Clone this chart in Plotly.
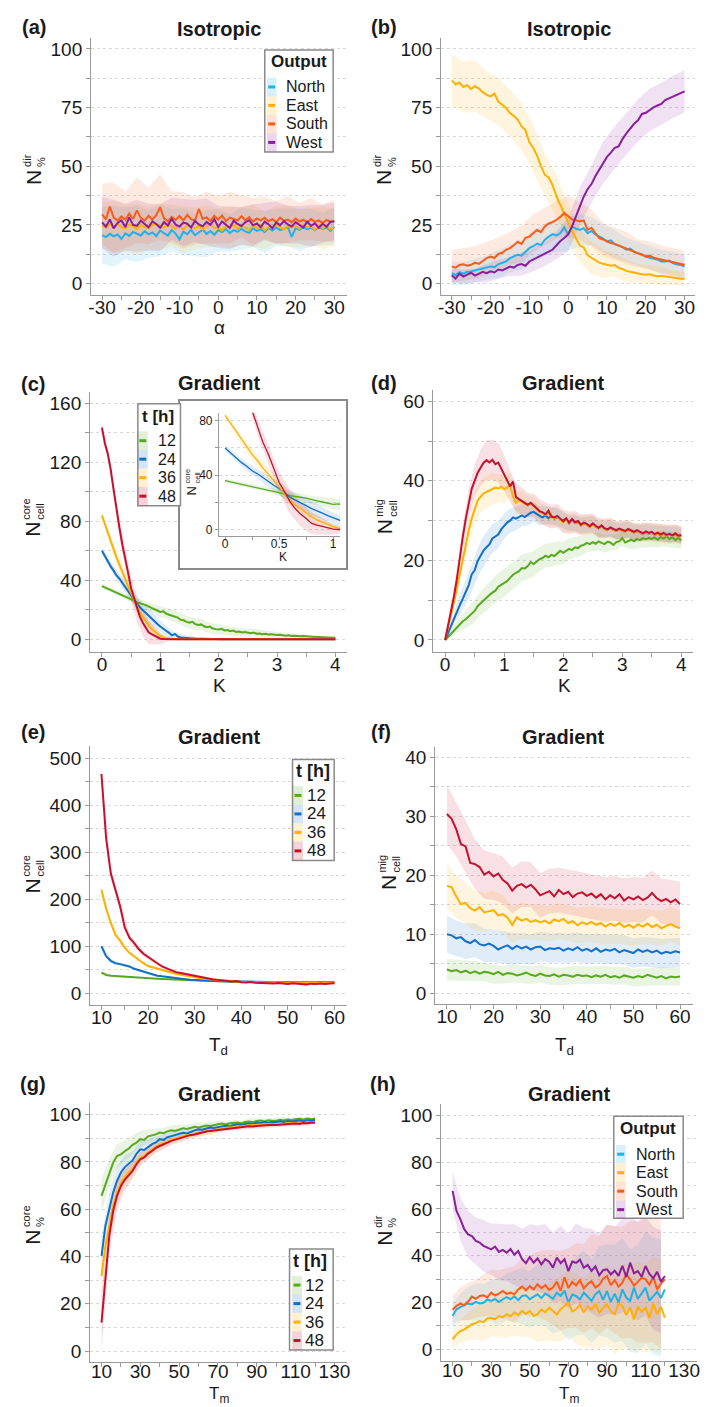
import plotly.graph_objects as go

# ---------------------------------------------------------------- data
ALPHA = list(range(-30, 31))                      # 61 angles
K = [round(0.05 * i, 2) for i in range(81)]       # 0 .. 4
TD = list(range(10, 61))                          # 10 .. 60
TM = list(range(10, 121, 2))                      # 10 .. 120

DIR_NAMES = ["North", "East", "South", "West"]
T_NAMES = ["12", "24", "36", "48"]

# (a) isotropic, no bias
A_NORTH = [20.6, 19.8, 21.2, 20.1, 20.9, 19.0, 21.4, 20.3, 22.0, 21.1,
           20.5, 22.3, 21.0, 21.8, 20.2, 22.6, 21.5, 20.4, 22.8, 21.3,
           18.9, 22.1, 21.0, 22.9, 20.6, 21.8, 23.0, 21.2, 22.4, 20.8,
           22.7, 21.9, 23.3, 21.5, 22.8, 22.0, 23.4, 22.2, 21.6, 23.5,
           22.4, 23.1, 22.0, 23.7, 22.6, 23.9, 22.8, 23.3, 24.1, 19.9,
           23.6, 22.9, 24.0, 23.2, 23.8, 22.7, 24.1, 23.3, 23.9, 22.5,
           24.2]
A_EAST = [24.8, 23.9, 25.3, 24.2, 25.6, 24.0, 23.5, 25.1, 24.4, 23.2,
          25.0, 24.1, 23.6, 24.9, 25.4, 24.3, 23.8, 25.2, 24.6, 23.4,
          24.7, 22.9, 25.0, 24.2, 23.5, 24.8, 23.1, 24.4, 25.3, 23.7,
          24.0, 22.6, 24.5, 23.9, 25.1, 23.3, 24.6, 23.8, 22.8, 24.7,
          23.5, 24.9, 22.7, 24.2, 23.6, 25.0, 24.1, 23.0, 24.5, 23.8,
          24.6, 23.4, 25.2, 23.9, 24.3, 22.9, 24.8, 23.6, 24.4, 23.1,
          24.0]
A_SOUTH = [29.5, 27.4, 32.8, 28.1, 26.9, 28.6, 27.2, 29.8, 27.5, 31.2,
           28.0, 26.8, 28.9, 27.3, 29.1, 32.6, 27.8, 26.5, 28.4, 27.1,
           28.8, 26.9, 29.3, 27.4, 26.8, 31.8, 27.6, 28.2, 26.7, 28.9,
           27.3, 29.0, 26.6, 28.1, 27.5, 26.9, 28.7, 27.0, 28.3, 26.4,
           27.8, 26.9, 28.0, 26.5, 27.4, 26.2, 28.1, 26.8, 27.3, 26.1,
           27.7, 26.4, 27.2, 26.0, 27.5, 26.3, 26.9, 25.8, 27.1, 26.4,
           26.8]
A_WEST = [26.1, 24.2, 27.3, 23.5, 25.8, 26.9, 24.1, 28.2, 25.0, 24.6,
          26.8, 25.2, 24.0, 26.5, 25.4, 23.8, 26.2, 24.7, 27.6, 25.1,
          24.3, 26.0, 25.5, 23.9, 26.7, 25.2, 24.4, 26.3, 25.0, 27.4,
          24.2, 26.5, 25.1, 23.7, 26.8, 25.4, 24.5, 26.1, 27.0, 24.8,
          25.6, 24.0, 26.4, 25.3, 23.6, 26.0, 24.9, 26.6, 25.2, 24.3,
          26.2, 25.0, 23.9, 26.4, 24.6, 25.7, 23.8, 25.5, 24.2, 26.3,
          26.5]
# spread, sampled every 3rd angle
A_NORTH_SD = [12, 13, 11, 12, 10, 11, 9, 10, 9, 10, 9, 8, 9, 8, 9, 8, 8, 9, 8, 7, 8]
A_EAST_SD = [10, 11, 10, 11, 9, 10, 9, 10, 9, 9, 8, 9, 8, 9, 8, 8, 9, 8, 8, 9, 8]
A_SOUTH_SD = [13, 15, 12, 14, 12, 14, 11, 12, 10, 11, 10, 11, 9, 10, 9, 9, 10, 8, 9, 8, 9]
A_WEST_SD = [11, 12, 10, 11, 10, 10, 9, 10, 9, 10, 9, 9, 8, 9, 8, 9, 8, 8, 9, 8, 8]

# (b) isotropic, biased
B_NORTH = [4.4, 3.6, 4.9, 4.2, 5.0, 5.1, 5.6, 5.9, 6.4, 6.8,
           7.3, 7.0, 8.2, 8.9, 9.4, 10.8, 11.6, 12.3, 11.9, 13.6,
           15.1, 15.9, 17.0, 16.4, 18.7, 20.0, 21.1, 20.4, 21.5, 23.9,
           20.8, 24.3, 23.4, 22.9, 23.6, 21.5, 22.4, 20.9, 20.0, 19.2,
           17.9, 18.4, 16.8, 16.1, 15.5, 14.4, 14.9, 13.5, 12.8, 12.2,
           11.5, 11.0, 10.6, 10.2, 9.4, 9.4, 9.8, 8.7, 8.1, 7.9,
           7.3]
B_EAST = [86.6, 84.9, 85.7, 83.8, 84.6, 82.9, 84.2, 83.1, 81.6, 80.4,
          79.8, 81.0, 77.6, 76.2, 74.9, 72.7, 71.5, 69.8, 67.0, 65.4,
          60.2, 57.9, 54.4, 50.1, 46.3, 45.2, 41.8, 37.1, 33.4, 30.1,
          25.8, 22.4, 19.3, 16.2, 15.4, 12.1, 11.0, 9.9, 8.9, 8.4,
          8.1, 7.6, 7.9, 6.7, 6.2, 5.4, 5.0, 4.6, 4.3, 4.0,
          3.8, 3.9, 3.4, 3.1, 3.3, 3.0, 2.7, 2.5, 2.3, 2.0,
          1.9]
B_SOUTH = [7.3, 6.8, 7.9, 8.2, 7.6, 8.0, 8.9, 8.4, 9.6, 10.8,
           11.5, 10.9, 12.6, 13.1, 14.4, 15.1, 16.3, 17.8, 16.9, 19.5,
           20.0, 21.4, 22.8, 21.9, 24.3, 25.6, 26.2, 27.2, 28.4, 30.1,
           28.6, 27.3, 27.0, 26.5, 26.9, 22.9, 23.8, 21.4, 19.3, 18.8,
           17.9, 17.3, 16.9, 16.2, 15.6, 15.1, 14.2, 13.6, 12.9, 12.4,
           11.5, 11.9, 11.0, 10.6, 10.2, 10.1, 9.7, 9.2, 8.8, 8.5,
           8.0]
B_WEST = [3.5, 2.1, 4.2, 3.0, 3.8, 4.6, 3.4, 4.1, 5.0, 4.4,
          5.2, 4.7, 6.0, 5.6, 6.5, 7.2, 6.8, 7.9, 8.3, 7.6,
          9.4, 10.2, 10.9, 11.8, 12.5, 13.6, 14.5, 16.3, 18.1, 19.4,
          20.9, 24.4, 28.5, 32.9, 37.0, 40.2, 42.4, 45.7, 48.5, 51.6,
          54.0, 55.8, 57.9, 58.5, 61.6, 64.0, 66.2, 68.1, 69.6, 72.3,
          72.8, 74.0, 75.1, 75.9, 76.6, 78.2, 78.9, 79.6, 80.5, 81.0,
          81.9]
B_NORTH_SD = [5, 5, 5, 5, 6, 6, 6, 7, 7, 7, 7, 7, 6, 6, 6, 5, 5, 5, 5, 5, 5]
B_EAST_SD = [11, 11, 11, 10, 10, 10, 10, 10, 9, 9, 8, 7, 7, 6, 5, 5, 4, 4, 4, 3, 3]
B_SOUTH_SD = [7, 7, 7, 7, 7, 7, 8, 8, 8, 8, 9, 8, 8, 7, 7, 7, 6, 6, 6, 6, 6]
B_WEST_SD = [3, 3, 3, 4, 4, 4, 5, 5, 5, 6, 7, 8, 8, 9, 9, 9, 9, 9, 9, 9, 9]

# (c) core cells vs K
C_12 = [36.0, 35.1, 34.4, 33.6, 32.5, 31.8, 30.9, 30.2, 29.3, 28.4,
        27.3, 26.2, 25.0, 24.6, 23.8, 23.1, 21.9, 21.2, 20.3, 19.4,
        18.5, 18.9, 17.4, 16.6, 15.9, 15.2, 14.6, 13.2, 12.8, 11.7,
        11.1, 11.8, 10.2, 9.6, 10.0, 8.7, 8.1, 8.5, 7.2, 6.8,
        6.6, 7.0, 5.9, 6.2, 5.4, 5.8, 4.9, 5.2, 4.6, 4.8,
        4.4, 4.0, 4.5, 3.7, 3.9, 3.4, 3.6, 3.1, 3.3, 2.9,
        2.8, 3.0, 2.6, 2.4, 2.7, 2.2, 2.3, 2.0, 1.9, 2.1,
        1.8, 1.6, 1.7, 1.4, 1.5, 1.3, 1.2, 1.4, 1.1, 1.0,
        1.0]
C_24 = [60.0, 56.3, 52.8, 49.4, 46.5, 43.2, 41.0, 38.1, 35.3, 32.6,
        30.2, 26.8, 23.9, 21.7, 19.8, 17.6, 15.4, 13.9, 12.1, 10.3,
        8.6, 7.4, 5.7, 4.3, 2.6, 3.6, 1.8, 1.2, 0.9, 0.7,
        0.6, 0.5, 0.4, 0.3, 0.3, 0.2, 0.2, 0.1, 0.1, 0.1] + [0.0] * 41
C_36 = [84.0, 78.2, 72.5, 66.1, 60.4, 55.3, 50.6, 45.2, 40.8, 35.7,
        31.2, 26.4, 22.5, 18.1, 15.3, 12.2, 9.4, 7.1, 5.3, 3.6,
        2.2, 1.1, 0.5, 0.2, 0.1] + [0.0] * 56
C_48 = [143.5, 133.0, 125.8, 115.2, 101.4, 87.3, 75.6, 64.1, 55.4, 44.8,
        34.6, 27.9, 20.6, 15.3, 11.2, 8.1, 4.6, 3.4, 2.3, 1.2,
        0.3, 0.1] + [0.0] * 59
# spread, sampled every 0.1 in K
C_12_SD = [1.5, 1.5, 1.6, 1.8, 2, 2.2, 2.5, 2.8, 3, 3.2, 3.5, 3.6, 3.8, 4, 4, 4, 4, 3.8,
           3.6, 3.5, 3.4, 3.2, 3, 3, 2.8, 2.6, 2.5, 2.4, 2.2, 2, 2, 1.8, 1.6, 1.5, 1.4,
           1.3, 1.2, 1.1, 1, 1, 1]
C_24_SD = [2, 2.5, 3, 3.5, 4, 4.5, 5, 5, 5, 4.5, 4, 3.5, 3, 2.5, 2, 1.5, 1, 0.8, 0.6,
           0.4, 0.3] + [0.2] * 20
C_36_SD = [2, 3, 4, 4.5, 5, 5, 5, 4.5, 4, 3, 2, 1.5, 0.8, 0.4, 0.2] + [0.1] * 26
C_48_SD = [3, 4, 5, 6, 7, 8, 9, 9, 8, 6, 4, 2, 1, 0.5, 0.3] + [0.2] * 26

# (d) migrating cells vs K
D_12 = [0.0, 0.8, 1.6, 2.4, 3.3, 4.0, 4.7, 5.2, 5.9, 6.6,
        7.3, 8.5, 9.2, 10.1, 10.6, 11.3, 11.9, 12.4, 13.4, 13.9,
        14.4, 14.8, 15.6, 16.4, 16.9, 17.3, 18.1, 18.0, 18.6, 19.6,
        19.1, 19.8, 20.3, 20.6, 21.2, 20.8, 21.4, 21.1, 21.8, 22.4,
        21.9, 22.5, 22.9, 22.6, 23.3, 23.1, 23.7, 23.9, 24.4, 24.1,
        24.6, 24.2, 24.8, 24.4, 24.1, 24.7, 24.5, 23.9, 24.6, 24.8,
        25.6, 24.5, 24.9, 25.2, 24.8, 25.4, 25.1, 25.6, 25.3, 25.7,
        25.4, 25.8, 25.2, 25.9, 25.5, 26.0, 25.4, 25.8, 25.1, 25.7,
        25.0]
D_24 = [0.0, 1.8, 3.6, 5.4, 7.3, 8.8, 10.4, 12.0, 13.8, 16.5,
        17.5, 19.8, 21.0, 22.5, 23.3, 24.0, 25.5, 26.0, 26.5, 27.8,
        28.6, 29.5, 30.0, 30.8, 30.5, 31.0, 31.3, 30.9, 31.4, 32.0,
        32.2, 31.6, 31.2, 30.8, 31.3, 30.6, 31.2, 30.5, 30.9, 30.3,
        30.1, 30.4, 29.3, 30.2, 29.4, 29.7, 28.8, 29.3, 29.0, 28.4,
        29.1, 28.5, 28.0, 28.6, 27.9, 27.6, 28.1, 27.7, 27.4, 27.8,
        27.5, 27.2, 27.7, 27.3, 27.0, 27.4, 26.9, 26.6, 27.1, 26.7,
        27.0, 26.4, 26.8, 26.3, 26.7, 26.2, 26.5, 26.1, 26.6, 26.0,
        26.2]
D_36 = [0.0, 3.0, 6.0, 9.5, 13.0, 16.5, 20.5, 24.4, 27.5, 30.5,
        33.0, 35.0, 36.0, 36.8, 37.2, 37.5, 37.9, 38.3, 38.1, 38.5,
        37.9, 38.3, 39.0, 36.0, 34.5, 35.2, 34.7, 34.2, 33.8, 34.3,
        33.6, 32.8, 32.2, 31.9, 31.4, 32.2, 30.8, 30.6, 31.0, 30.3,
        29.6, 30.4, 29.3, 30.2, 29.4, 29.7, 28.8, 29.3, 29.0, 28.4,
        29.1, 28.5, 28.0, 28.6, 27.9, 27.6, 28.1, 27.7, 27.4, 27.8,
        27.5, 27.2, 27.7, 27.3, 27.0, 27.4, 26.9, 26.6, 27.1, 26.7,
        27.0, 26.4, 26.8, 26.3, 26.7, 26.2, 26.5, 26.1, 26.6, 26.0,
        26.2]
D_48 = [0.0, 3.5, 7.0, 11.0, 15.5, 21.0, 26.0, 30.5, 34.5, 38.0,
        40.0, 42.0, 43.3, 44.5, 45.2, 44.6, 45.3, 44.2, 44.6, 43.1,
        42.0, 40.4, 38.6, 39.8, 35.9, 35.4, 34.9, 34.4, 34.0, 34.5,
        33.8, 33.0, 32.4, 32.1, 31.6, 32.5, 31.0, 30.8, 31.2, 30.5,
        29.8, 30.6, 29.5, 30.4, 29.6, 29.9, 29.0, 29.5, 29.2, 28.6,
        29.3, 28.7, 28.2, 28.8, 28.1, 27.8, 28.3, 27.9, 27.6, 28.0,
        27.7, 27.4, 27.9, 27.5, 27.2, 27.6, 27.1, 26.8, 27.3, 26.9,
        27.2, 26.6, 27.0, 26.5, 26.9, 26.4, 26.7, 26.3, 26.8, 26.2,
        26.4]
D_12_SD = [0, 1, 1.5, 2, 2.5, 2.8, 3, 3.2, 3.3, 3.4, 3.5, 3.5, 3.5, 3.4, 3.3, 3.2, 3.1,
           3, 3, 2.9, 2.8, 2.7, 2.6, 2.5, 2.4, 2.3, 2.2, 2.2, 2.1] + [2] * 12
D_24_SD = [0, 1.2, 2, 2.8, 3.3, 3.6, 3.8, 3.8, 3.6, 3.4, 3.2, 3, 3, 2.8, 2.6, 2.5, 2.4,
           2.3, 2.2, 2.2, 2.1] + [2] * 20
D_36_SD = [0, 1, 2, 3, 3.5, 4, 4, 4, 4, 3.5, 3.5, 3, 3, 2.8, 2.6, 2.5] + [2.4] * 25
D_48_SD = [0, 1, 2, 3, 3.5, 4, 4.5, 5, 5, 5, 4.5, 4, 3.5, 3.5, 3, 3, 3, 3, 3, 3, 3,
           2.8, 2.8, 2.6, 2.5, 2.5, 2.5, 2.4, 2.4, 2.3, 2.3] + [2.2] * 10

# (e) core cells vs T_d
E_12 = [44, 39, 37.5, 37, 36, 35, 35.5, 34.5, 33.5, 33,
        32, 31.5, 31, 30.5, 30, 29.5, 29, 28.5, 28, 27.5,
        27, 26.6, 26.2, 25.8, 25.5, 25.2, 25, 24.8, 24.6, 24.4,
        24.2, 24, 23.9, 23.8, 23.7, 23.6, 23.5, 23.5, 23.4, 23.4,
        23.3, 23.3, 23.4, 23.5, 23.6, 23.7, 23.8, 23.8, 23.9, 24,
        24]
E_24 = [100, 79, 69, 64, 62, 60, 57, 52, 49, 46,
        42, 40, 37.5, 36, 34.5, 33, 32, 31, 30, 29,
        28, 27.5, 27, 26.5, 26, 25.8, 25.4, 25, 24.8, 24.6,
        24.4, 24.2, 24, 23.8, 23.6, 23.5, 23.4, 23.3, 23.2, 23.1,
        23, 23, 23.1, 22.9, 23.2, 23, 23.1, 22.9, 23.2, 23,
        23.1]
E_36 = [220, 180, 150, 124, 112, 97, 86, 78, 71, 64,
        58, 55, 52, 49, 46, 43.5, 41.5, 39.5, 37.5, 35.5,
        34, 32.5, 31, 30, 29, 28, 27, 26.5, 25.5, 25,
        24.5, 24, 23.5, 24.2, 23, 23.6, 22.8, 23.3, 22.5, 23,
        22.4, 23.1, 22.6, 23.4, 22.2, 22.9, 22.3, 23, 22.5, 22.8,
        22.6]
E_48 = [466, 330, 255, 218, 185, 140, 118, 107, 94, 84,
        77, 71, 63, 57, 53, 49, 45, 43, 41, 38.5,
        37, 35.5, 33, 31, 29.5, 28.5, 27, 26.5, 25, 26.2,
        23.5, 23, 24, 22.5, 22, 22.5, 21.5, 21, 22, 20.5,
        20, 21.5, 20.5, 20, 18.5, 20.5, 19.5, 20.8, 19.8, 20.6,
        21.2]
E_12_SD = [3, 2.5, 2, 2, 1.8, 1.6, 1.5] + [1.4] * 19
E_24_SD = [5, 4, 3.5, 3, 3, 2.5, 2.5] + [2] * 19
E_36_SD = [8, 7, 6, 5, 4, 3.5, 3, 3, 2.5, 2.5] + [2] * 16
E_48_SD = [10, 14, 12, 8, 6, 5, 4, 3.5, 3, 3, 2.5, 2.5, 2.5] + [2] * 13

# (f) migrating cells vs T_d
F_12 = [4.0, 3.7, 3.9, 3.5, 3.8, 3.4, 3.7, 3.3, 3.6, 3.5,
        3.2, 3.6, 3.1, 3.4, 3.3, 3.0, 3.2, 3.5, 3.1, 2.9,
        3.3, 3.0, 2.9, 3.2, 2.8, 3.1, 3.0, 2.8, 3.1, 2.9,
        3.0, 2.7, 3.0, 2.8, 3.1, 2.7, 2.9, 2.6, 3.0, 2.8,
        2.6, 2.9, 2.7, 3.1, 2.8, 2.6, 2.9, 2.5, 2.8, 2.7,
        2.8]
F_24 = [10.0, 9.8, 9.3, 9.5, 8.8, 8.5, 9.0, 8.3, 8.1, 8.4,
        8.0, 7.4, 7.8, 8.1, 7.5, 8.0, 7.6, 7.9, 7.4, 7.8,
        7.9, 7.3, 7.6, 7.5, 7.7, 7.2, 7.6, 7.3, 7.8, 7.2,
        7.5, 7.1, 7.6, 7.0, 7.4, 7.2, 7.5, 6.9, 7.3, 7.1,
        6.8, 7.4, 7.0, 7.3, 6.9, 7.2, 6.7, 7.0, 6.8, 7.1,
        6.9]
F_36 = [18.2, 18.0, 16.4, 15.1, 15.3, 14.4, 14.0, 14.6, 13.7, 13.9,
        14.1, 13.2, 13.4, 12.8, 11.6, 12.9, 12.3, 12.6, 12.1, 12.4,
        12.0, 12.3, 11.8, 12.5, 12.2, 12.6, 11.9, 12.2, 11.5, 12.0,
        11.7, 12.1, 11.6, 11.9, 11.3, 11.8, 11.4, 11.9, 11.2, 11.6,
        11.1, 11.7, 11.3, 11.8, 11.2, 11.6, 11.0, 11.4, 11.7, 11.3,
        11.0]
F_48 = [30.4, 29.6, 27.8, 25.3, 24.9, 22.1, 21.9, 21.4, 20.1, 20.6,
        19.8, 20.3, 19.2, 18.6, 17.4, 18.2, 18.5, 17.9, 18.4, 17.6,
        16.6, 16.9, 17.3, 16.4, 17.5, 16.8, 17.2, 16.3, 16.9, 17.1,
        16.5, 16.9, 16.2, 16.8, 15.9, 16.6, 16.1, 16.8, 15.7, 16.3,
        15.9, 16.4, 15.8, 16.2, 17.0, 16.1, 15.6, 16.0, 15.4, 15.9,
        15.1]
F_12_SD = [1.8, 1.8, 1.7, 1.7, 1.6, 1.6] + [1.5] * 20
F_24_SD = [3.2, 3, 3, 2.9, 2.8, 2.8, 2.7, 2.7, 2.6, 2.6] + [2.5] * 16
F_36_SD = [3.8, 3.6, 3.5, 3.4, 3.3, 3.2, 3.2, 3.1, 3.1, 3] + [3] * 16
F_48_SD = [5, 4.6, 4.4, 4.2, 4.1, 4, 4, 3.9, 3.9, 3.8] + [3.8] * 16

# (g) core share vs T_m
G_12 = [65.6, 70.5, 75.5, 79.7, 82.5, 83.2, 84.5, 85.6, 87.2, 88.1,
        89.6, 89.3, 90.8, 91.2, 91.6, 92.4, 92.1, 92.9, 93.4, 93.1,
        93.8, 94.2, 93.9, 94.5, 94.8, 94.5, 95.1, 95.4, 95.2, 95.7,
        95.9, 96.2, 95.8, 96.3, 96.6, 96.6, 96.3, 96.9, 97.1, 96.8,
        97.3, 97.5, 97.1, 97.6, 97.3, 97.3, 97.8, 97.5, 97.9, 97.6,
        98.0, 98.2, 97.8, 98.3, 98.0, 98.3]
G_24 = [40.2, 52.9, 60.0, 67.0, 72.0, 75.5, 77.8, 79.2, 80.6, 83.4,
        85.3, 85.0, 86.4, 87.5, 88.2, 89.6, 89.3, 90.4, 90.9, 91.3,
        91.7, 92.3, 92.0, 92.8, 93.3, 93.8, 93.6, 94.1, 94.5, 94.3,
        94.8, 95.0, 95.3, 95.1, 95.6, 95.9, 95.7, 96.1, 96.3, 96.0,
        96.6, 96.4, 96.8, 96.5, 96.9, 96.9, 97.2, 96.9, 97.3, 97.1,
        97.3, 97.5, 97.2, 97.6, 97.4, 97.7]
G_36 = [31.7, 44.4, 52.9, 61.4, 67.0, 71.2, 73.5, 75.6, 76.9, 79.8,
        81.8, 82.4, 84.1, 85.0, 86.2, 87.4, 87.9, 88.6, 89.4, 89.8,
        90.3, 90.9, 91.3, 91.2, 91.9, 92.4, 92.6, 92.9, 93.3, 93.5,
        93.8, 94.0, 94.3, 94.6, 94.4, 95.0, 95.1, 95.3, 95.2, 95.6,
        95.5, 95.8, 95.6, 96.0, 95.9, 95.9, 96.2, 96.0, 96.4, 96.2,
        96.3, 96.6, 96.4, 96.7, 96.5, 96.6]
G_48 = [12.0, 30.3, 48.7, 59.2, 65.6, 69.8, 72.4, 74.3, 76.2, 79.0,
        81.1, 81.9, 83.5, 84.6, 85.9, 86.7, 87.3, 88.1, 88.9, 89.4,
        89.8, 90.5, 90.9, 91.4, 91.6, 92.1, 92.5, 92.8, 93.1, 93.3,
        93.5, 93.9, 94.1, 94.2, 94.5, 94.5, 94.8, 95.0, 95.1, 95.0,
        95.2, 95.4, 95.3, 95.5, 95.7, 95.6, 95.8, 96.0, 95.9, 96.1,
        96.2, 96.0, 96.4, 96.3, 96.6, 96.5]
G_12_SD = [7, 6, 5, 4.5, 4, 3.5, 3, 2.5, 2.2, 2, 2, 1.8, 1.8, 1.6, 1.5, 1.5, 1.4, 1.3,
           1.3, 1.2, 1.2, 1.2, 1.1, 1.1, 1, 1, 1, 1]
G_24_SD = [8, 7, 6, 5, 4, 3.5, 3, 2.5, 2.2, 2, 1.8, 1.6, 1.5, 1.4, 1.3, 1.2, 1.2, 1.1,
           1.1] + [1] * 9
G_36_SD = [10, 7, 5, 4, 3.5, 3, 2.5, 2.2, 2, 1.8, 1.6, 1.5, 1.4, 1.3, 1.2, 1.2, 1.1,
           1.1] + [1] * 10
G_48_SD = [12, 8, 6, 4.5, 3.5, 3, 2.5, 2.2, 2, 1.8, 1.6, 1.5, 1.4, 1.3, 1.2, 1.2, 1.1,
           1.1] + [1] * 10

# (h) exit direction vs T_m
H_NORTH = [14.2, 17.1, 18.0, 18.9, 19.6, 19.2, 20.3, 19.6, 19.9, 21.3,
           20.7, 21.5, 20.2, 21.4, 22.3, 21.4, 22.6, 21.0, 22.8, 23.1,
           21.4, 22.5, 23.5, 21.9, 23.8, 22.8, 21.6, 24.2, 22.9, 25.1,
           19.9, 23.4, 22.8, 21.3, 24.2, 22.6, 20.7, 23.5, 24.9, 21.1,
           24.9, 20.3, 23.8, 19.9, 25.6, 22.1, 20.7, 26.4, 21.5, 23.9,
           26.4, 20.8, 22.8, 24.6, 21.9, 25.6]
H_EAST = [4.3, 6.4, 7.8, 8.5, 9.6, 10.7, 11.2, 12.1, 11.6, 13.2,
          13.5, 12.8, 14.2, 13.6, 15.0, 14.1, 15.7, 14.6, 16.4, 15.2,
          16.4, 14.2, 15.0, 17.1, 15.8, 17.8, 16.4, 14.9, 17.1, 18.6,
          19.9, 16.2, 17.1, 18.9, 15.8, 18.5, 16.9, 19.4, 15.7, 17.8,
          19.2, 16.3, 15.0, 19.6, 18.5, 14.6, 17.9, 12.8, 18.2, 16.0,
          17.8, 13.5, 19.4, 15.0, 18.2, 13.5]
H_SOUTH = [16.9, 18.6, 19.5, 18.9, 20.4, 22.5, 21.6, 22.8, 23.1, 22.2,
           24.2, 23.0, 23.8, 24.9, 23.7, 24.2, 23.5, 25.6, 26.8, 25.2,
           27.0, 25.6, 27.8, 26.1, 27.4, 25.4, 26.4, 28.9, 25.0, 30.8,
           26.2, 28.8, 27.3, 29.5, 26.0, 27.9, 29.1, 26.4, 27.5, 30.2,
           31.3, 27.4, 29.6, 26.8, 28.5, 32.1, 29.9, 27.2, 28.8, 30.6,
           29.9, 27.6, 31.0, 25.6, 28.1, 29.9]
H_WEST = [67.7, 59.1, 55.6, 51.3, 49.1, 48.4, 46.3, 45.6, 44.2, 43.4,
          42.7, 43.9, 41.6, 42.5, 41.3, 42.8, 40.4, 42.0, 38.5, 36.8,
          39.4, 37.0, 38.8, 36.2, 38.5, 37.4, 34.9, 39.2, 36.8, 38.5,
          33.4, 37.5, 36.9, 38.3, 34.8, 36.0, 33.5, 35.4, 31.6, 33.8,
          34.2, 32.0, 33.6, 31.4, 35.7, 30.9, 37.0, 32.5, 33.4, 31.0,
          35.6, 32.2, 30.4, 33.1, 28.9, 31.3]
H_NORTH_SD = [5, 6, 7, 8, 8, 9, 10, 10, 11, 12, 12, 13, 14, 15, 15, 16, 17, 18, 18, 19,
              20, 21, 22, 22, 23, 24, 25, 25]
H_EAST_SD = [4, 5, 6, 7, 8, 8, 9, 10, 10, 11, 11, 12, 12, 13, 14, 14, 15, 15, 16, 16,
             17, 17, 18, 18, 19, 19, 20, 20]
H_SOUTH_SD = [6, 7, 8, 8, 9, 10, 10, 11, 12, 12, 13, 14, 15, 16, 17, 17, 18, 19, 20, 21,
              22, 23, 24, 25, 26, 27, 28, 28]
H_WEST_SD = [8, 9, 10, 10, 11, 11, 12, 12, 13, 13, 14, 14, 15, 15, 16, 16, 17, 17, 18, 18,
             19, 19, 20, 20, 21, 21, 22, 22]

# tick values and labels
ALPHA_TICKS = [-30, -20, -10, 0, 10, 20, 30]
ALPHA_LABELS = ["-30", "-20", "-10", "0", "10", "20", "30"]
K_TICKS = [0, 1, 2, 3, 4]
K_LABELS = ["0", "1", "2", "3", "4"]
TD_TICKS = [10, 20, 30, 40, 50, 60]
TD_LABELS = ["10", "20", "30", "40", "50", "60"]
TM_TICKS = [10, 30, 50, 70, 90, 110, 130]
TM_LABELS = ["10", "30", "50", "70", "90", "110", "130"]
PCT25_TICKS = [0, 25, 50, 75, 100]
PCT20_TICKS = [0, 20, 40, 60, 80, 100]
CORE_K_TICKS = [0, 40, 80, 120, 160]
MIG_K_TICKS = [0, 20, 40, 60]
CORE_TD_TICKS = [0, 100, 200, 300, 400, 500]
MIG_TD_TICKS = [0, 10, 20, 30, 40]
INSET_X_TICKS = [0, 0.5, 1]
INSET_X_LABELS = ["0", "0.5", "1"]
INSET_Y_TICKS = [0, 40, 80]

# ---------------------------------------------------------------- style
W, H = 707, 1407
FONT = "Liberation Sans, Arial, Helvetica, sans-serif"
TXT = "#1a1a1a"
AXC = "#9a9a9a"
GRID = "#d9d9d9"
FRAME = "#8a8a8a"
DIR_COLORS = ["#1DB3E8", "#FFB000", "#FF5A16", "#8B1E9B"]
T_COLORS = ["#58A91F", "#1170C8", "#FFB000", "#C8102E"]

fig = go.Figure()


def rgba(hexc, a):
    h = hexc.lstrip("#")
    return "rgba(%d,%d,%d,%s)" % (int(h[0:2], 16), int(h[2:4], 16), int(h[4:6], 16), a)


def ax_ids(n):
    s = "" if n == 1 else str(n)
    return "x" + s, "y" + s


def add_series(n, xs, series, spreads, step, colors, width=2.0, alpha=0.13):
    xa, ya = ax_ids(n)
    for ys, sd, c in zip(series, spreads, colors):
        bm = ys[::step]
        lo = [m - s for m, s in zip(bm, sd)]
        hi = [m + s for m, s in zip(bm, sd)]
        bx = xs[::step][:len(lo)]
        fig.add_trace(go.Scatter(x=bx + bx[::-1], y=hi + lo[::-1], fill="toself",
                                 fillcolor=rgba(c, alpha), line=dict(width=0), mode="lines",
                                 xaxis=xa, yaxis=ya, hoverinfo="skip", showlegend=False))
    for ys, c in zip(series, colors):
        fig.add_trace(go.Scatter(x=xs, y=ys, mode="lines", line=dict(color=c, width=width),
                                 xaxis=xa, yaxis=ya, hoverinfo="skip", showlegend=False))


def set_axes(n, box, xr, yr, xt, xtl, xm, yt, ytl, ym, fs=19, tl=4, xstand=-9):
    l, t, r, b = box
    s = "" if n == 1 else str(n)
    common = dict(showline=True, linecolor=AXC, linewidth=1.4, ticks="outside", ticklen=tl,
                  tickwidth=1.2, tickcolor=AXC, tickangle=0, zeroline=False, fixedrange=True,
                  tickfont=dict(size=fs, color=TXT, family=FONT), tickmode="array")
    minor = dict(tickmode="array", ticks="outside", ticklen=tl, tickwidth=1.2, tickcolor=AXC)
    fig.update_layout(**{
        "xaxis" + s: dict(common, domain=[l / W, r / W], range=xr, anchor="y" + s,
                          tickvals=xt, ticktext=xtl, showgrid=False, ticklabelstandoff=xstand,
                          minor=dict(minor, tickvals=xm, showgrid=False)),
        "yaxis" + s: dict(common, domain=[1 - b / H, 1 - t / H], range=yr, anchor="x" + s,
                          tickvals=yt, ticktext=ytl, showgrid=True, gridcolor=GRID,
                          griddash="dot", gridwidth=1,
                          minor=dict(minor, tickvals=ym, showgrid=True, gridcolor=GRID,
                                     griddash="dot", gridwidth=1)),
    })


def txt(x, y, s, size, bold=False, xanchor="center", yanchor="middle", angle=0, align="center"):
    fig.add_annotation(x=x / W, y=1 - y / H, xref="paper", yref="paper",
                       text="<b>%s</b>" % s if bold else s, showarrow=False,
                       font=dict(size=size, color=TXT, family=FONT), xanchor=xanchor,
                       yanchor=yanchor, textangle=angle, align=align)


def ytitle(xc, yc, sup, sub, big=21, small=11, gap=8):
    # large N, with the superscript and subscript stacked above it (rotated)
    txt(xc, yc, "N", big, angle=-90)
    txt(xc + 0.5, yc - gap, "%s<br>%s" % (sup, sub), small, angle=-90, yanchor="bottom",
        align="left")


def legend_block(box, title, title_x, title_y, names, colors, item_ys, key_x, text_x,
                 fs=16, tfs=17, step=18.5):
    x0, y0, x1, y1 = box
    fig.add_shape(type="rect", xref="paper", yref="paper", x0=x0 / W, x1=x1 / W,
                  y0=1 - y1 / H, y1=1 - y0 / H, fillcolor="white",
                  line=dict(color=FRAME, width=1.5), layer="above")
    txt(title_x, title_y, title, tfs, bold=True, xanchor="left")
    half = step / 2
    for name, c, yy in zip(names, colors, item_ys):
        fig.add_shape(type="rect", xref="paper", yref="paper", x0=(key_x - 5) / W,
                      x1=(key_x + 5) / W, y0=1 - (yy + half) / H, y1=1 - (yy - half) / H,
                      fillcolor=rgba(c, 0.18), line=dict(width=0), layer="above")
        fig.add_shape(type="line", xref="paper", yref="paper", x0=(key_x - 3.5) / W,
                      x1=(key_x + 3.5) / W, y0=1 - yy / H, y1=1 - yy / H,
                      line=dict(color=c, width=3), layer="above")
        txt(text_x, yy, name, fs, xanchor="left")


# ---------------------------------------------------------------- panels
add_series(1, ALPHA, [A_NORTH, A_EAST, A_SOUTH, A_WEST],
           [A_NORTH_SD, A_EAST_SD, A_SOUTH_SD, A_WEST_SD], 3, DIR_COLORS)
add_series(2, ALPHA, [B_NORTH, B_EAST, B_SOUTH, B_WEST],
           [B_NORTH_SD, B_EAST_SD, B_SOUTH_SD, B_WEST_SD], 3, DIR_COLORS)
add_series(3, K, [C_12, C_24, C_36, C_48], [C_12_SD, C_24_SD, C_36_SD, C_48_SD], 2, T_COLORS)
add_series(4, K, [D_12, D_24, D_36, D_48], [D_12_SD, D_24_SD, D_36_SD, D_48_SD], 2, T_COLORS)
add_series(5, TD, [E_12, E_24, E_36, E_48], [E_12_SD, E_24_SD, E_36_SD, E_48_SD], 2, T_COLORS)
add_series(6, TD, [F_12, F_24, F_36, F_48], [F_12_SD, F_24_SD, F_36_SD, F_48_SD], 2, T_COLORS)
add_series(7, TM, [G_12, G_24, G_36, G_48], [G_12_SD, G_24_SD, G_36_SD, G_48_SD], 2, T_COLORS)
add_series(8, TM, [H_NORTH, H_EAST, H_SOUTH, H_WEST],
           [H_NORTH_SD, H_EAST_SD, H_SOUTH_SD, H_WEST_SD], 2, DIR_COLORS)

# inset frame (white card) and zoomed view of panel (c)
fig.add_trace(go.Scatter(x=[], y=[], xaxis="x9", yaxis="y9", hoverinfo="skip", showlegend=False))
add_series(10, K, [C_12, C_24, C_36, C_48], [C_12_SD, C_24_SD, C_36_SD, C_48_SD], 2,
           T_COLORS, width=1.3)

lbl = lambda v: [str(x) for x in v]
set_axes(1, (89, 38, 347, 295), [-32.8, 33.3], [-4.8, 104.7], ALPHA_TICKS, ALPHA_LABELS,
         [-25, -15, -5, 5, 15, 25], PCT25_TICKS, lbl(PCT25_TICKS), [12.5, 37.5, 62.5, 87.5])
set_axes(2, (442, 38, 698, 295), [-32.7, 32.7], [-4.8, 104.7], ALPHA_TICKS, ALPHA_LABELS,
         [-25, -15, -5, 5, 15, 25], PCT25_TICKS, lbl(PCT25_TICKS), [12.5, 37.5, 62.5, 87.5])
set_axes(3, (88, 392, 347, 652), [-0.2, 4.2], [-8.4, 167.9], K_TICKS, K_LABELS,
         [0.5, 1.5, 2.5, 3.5], CORE_K_TICKS, lbl(CORE_K_TICKS), [20, 60, 100, 140])
set_axes(4, (434, 390, 696, 652), [-0.2, 4.2], [-2.9, 62.9], K_TICKS, K_LABELS,
         [0.5, 1.5, 2.5, 3.5], MIG_K_TICKS, lbl(MIG_K_TICKS), [10, 30, 50])
set_axes(5, (88, 747, 347, 1006), [7.6, 62.7], [-25.5, 524.6], TD_TICKS, TD_LABELS,
         [15, 25, 35, 45, 55], CORE_TD_TICKS, lbl(CORE_TD_TICKS), [50, 150, 250, 350, 450])
set_axes(6, (436, 748, 696, 1005), [7.5, 62.8], [-1.9, 41.7], TD_TICKS, TD_LABELS,
         [15, 25, 35, 45, 55], MIG_TD_TICKS, lbl(MIG_TD_TICKS), [5, 15, 25, 35])
set_axes(7, (88, 1104, 347, 1363), [4.2, 136.5], [-4.65, 104.8], TM_TICKS, TM_LABELS,
         [20, 40, 60, 80, 100, 120], PCT20_TICKS, lbl(PCT20_TICKS), [10, 30, 50, 70, 90],
         xstand=-12)
set_axes(8, (442, 1105, 700, 1362), [4.1, 136.7], [-5, 104.7], TM_TICKS, TM_LABELS,
         [20, 40, 60, 80, 100, 120], PCT20_TICKS, lbl(PCT20_TICKS), [10, 30, 50, 70, 90],
         xstand=-12)

frame_ax = dict(showline=True, mirror=True, linecolor=FRAME, linewidth=1.5, showticklabels=False,
                ticks="", showgrid=False, zeroline=False, range=[0, 1], fixedrange=True)
fig.update_layout(
    xaxis9=dict(frame_ax, domain=[179 / W, 346 / W], anchor="y9"),
    yaxis9=dict(frame_ax, domain=[1 - 568 / H, 1 - 401 / H], anchor="x9"),
)
set_axes(10, (218, 413, 340, 536), [-0.055, 1.064], [-4.4, 85.9], INSET_X_TICKS,
         INSET_X_LABELS, [0.25, 0.75], INSET_Y_TICKS, lbl(INSET_Y_TICKS), [20, 60],
         fs=12, tl=3, xstand=-6)

# ---------------------------------------------------------------- text
for lab, x, y in [("(a)", 31, 27), ("(b)", 384, 27), ("(c)", 30, 384), ("(d)", 384, 383),
                  ("(e)", 30, 733), ("(f)", 381, 733), ("(g)", 30, 1085), ("(h)", 383, 1085)]:
    txt(x, y, lab, 20, bold=True)

for ttl, x, y in [("Isotropic", 218, 29), ("Isotropic", 571, 29), ("Gradient", 218, 383),
                  ("Gradient", 565, 383), ("Gradient", 218, 738), ("Gradient", 565, 738),
                  ("Gradient", 218, 1095), ("Gradient", 571, 1095)]:
    txt(x, y, ttl, 20, bold=True)

for s, x, y, fs in [("α", 218, 327.5, 19), ("K", 218, 685.5, 19), ("K", 566, 685.5, 19),
                    ("T<sub>d</sub>", 217, 1046.5, 19), ("T<sub>d</sub>", 566, 1046.5, 19),
                    ("T<sub>m</sub>", 218, 1395.5, 17), ("T<sub>m</sub>", 571, 1395.5, 17)]:
    txt(x, y, s, fs)

ytitle(30.8, 177.5, "dir", "%")
ytitle(384, 177.5, "dir", "%")
ytitle(29.5, 530, "core", "cell")
ytitle(385, 527, "mig", "cell")
ytitle(29.5, 887, "core", "cell")
ytitle(389, 883, "mig", "cell")
ytitle(29, 1238, "core", "%")
ytitle(384, 1239, "dir", "%")

# inset labels
txt(282, 557, "K", 12)
ytitle(190.5, 491, "core", "cell", big=13, small=7.5, gap=5)

# ---------------------------------------------------------------- legends
legend_block((264, 50, 333, 152), "Output", 268, 62, DIR_NAMES, DIR_COLORS,
             [87, 105.5, 124, 142.5], 271, 283.5)
legend_block((616, 1117, 686, 1219), "Output", 620, 1129, DIR_NAMES, DIR_COLORS,
             [1155, 1173.5, 1192, 1210.5], 623, 636)
legend_block((136, 404, 179, 506), "t [h]", 138, 417, T_NAMES, T_COLORS,
             [441, 459.5, 478, 496.5], 141, 154)
legend_block((292, 760, 334, 861), "t [h]", 293.5, 772, T_NAMES, T_COLORS,
             [796, 814.5, 833, 851.5], 297.5, 305, fs=17, tfs=18)
legend_block((289, 1250, 333, 1351), "t [h]", 290.5, 1262, T_NAMES, T_COLORS,
             [1286, 1304.5, 1323, 1341.5], 296.5, 303, fs=17, tfs=18)

fig.update_layout(width=W, height=H, margin=dict(l=0, r=0, t=0, b=0),
                  paper_bgcolor="white", plot_bgcolor="white", showlegend=False,
                  font=dict(family=FONT, color=TXT))

fig.write_html("out.html", config={"displayModeBar": False})
